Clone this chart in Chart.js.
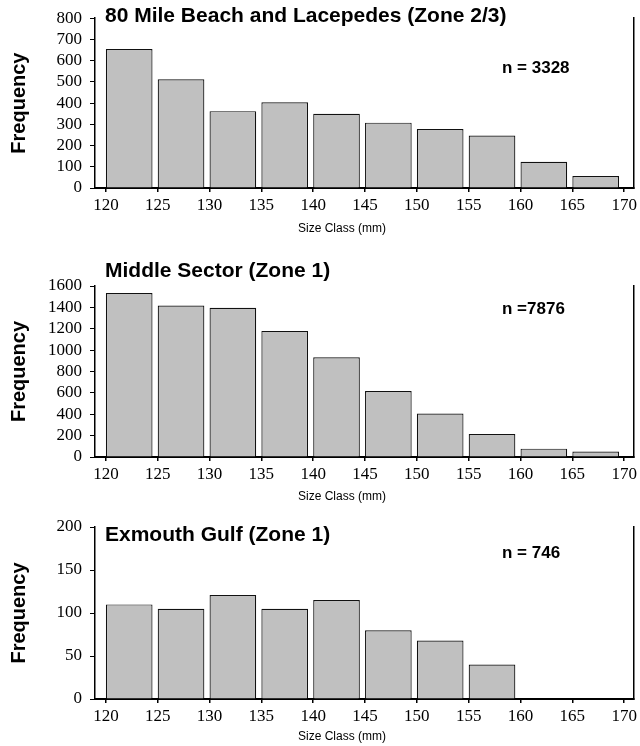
<!DOCTYPE html>
<html><head><meta charset="utf-8">
<script src="https://cdn.jsdelivr.net/npm/chart.js@4.4.0/dist/chart.umd.min.js"></script>
<style>
html,body{margin:0;padding:0;background:#fff;}
body{width:640px;height:746px;position:relative;overflow:hidden;}
canvas{position:absolute;left:0;}
</style></head><body>
<canvas id="c1" width="640" height="240" style="top:0px"></canvas>
<canvas id="c2" width="640" height="265" style="top:240px"></canvas>
<canvas id="c3" width="640" height="241" style="top:505px"></canvas>
<script>
// ---- data ----
const binStarts = [120, 125, 130, 135, 140, 145, 150, 155, 160, 165];
const xTickValues = [120, 125, 130, 135, 140, 145, 150, 155, 160, 165, 170];
const zone23Counts = [655, 512, 362, 404, 350, 308, 278, 247, 124, 56];
const middleCounts = [1535, 1418, 1396, 1180, 933, 618, 406, 215, 78, 52];
const exmouthCounts = [110, 105, 121, 105, 115, 80, 68, 40, 0, 0];
const panelTitles = ['80 Mile Beach and Lacepedes (Zone 2/3)', 'Middle Sector (Zone 1)', 'Exmouth Gulf (Zone 1)'];
const sampleSizes = ['n = 3328', 'n =7876', 'n = 746'];
const yTitle = 'Frequency';
const xTitle = 'Size Class (mm)';

const SANS = '"Liberation Sans", Arial, sans-serif';
const SERIF = '"Liberation Serif", "Times New Roman", serif';

const panelText = {
  id: 'panelText',
  afterDraw(chart, args, o) {
    const ctx = chart.ctx;
    ctx.save();
    ctx.fillStyle = '#000';
    ctx.textBaseline = 'middle';
    ctx.textAlign = 'left';
    ctx.font = 'bold 21px ' + SANS;
    ctx.fillText(o.title, o.titleX, o.titleY);
    ctx.font = 'bold 17px ' + SANS;
    ctx.fillText(o.n, o.nX, o.nY);
    ctx.font = '12px ' + SANS;
    ctx.textAlign = 'center';
    ctx.fillText(o.xTitle, o.xTitleX, o.xTitleY);
    ctx.restore();
  }
};

function makeChart(id, counts, yMax, yStep, idx, lay) {
  const canvas = document.getElementById(id);
  const H = canvas.height;
  return new Chart(canvas, {
    type: 'bar',
    data: {
      datasets: [{
        data: binStarts.map((s, i) => ({ x: s + 2.25, y: counts[i] })),
        backgroundColor: '#c0c0c0',
        borderColor: '#111',
        borderWidth: 1.2,
        barPercentage: 0.9,
        categoryPercentage: 1.0
      }]
    },
    options: {
      responsive: false,
      animation: false,
      devicePixelRatio: 1,
      layout: { padding: { top: lay.top, bottom: 0, left: 0, right: 0 } },
      plugins: {
        legend: { display: false },
        tooltip: { enabled: false },
        panelText: {
          title: panelTitles[idx], titleX: 105, titleY: lay.titleY,
          n: sampleSizes[idx], nX: 502, nY: lay.nY,
          xTitle: xTitle, xTitleX: 342, xTitleY: lay.xTitleY
        }
      },
      scales: {
        x: {
          type: 'linear',
          offset: false,
          min: 118.95, max: 170.9,
          afterBuildTicks: (a) => { a.ticks = xTickValues.map(v => ({ value: v })); },
          afterFit: (a) => { a.height = H - lay.bottom; },
          ticks: { font: { family: SERIF, size: 17 }, color: '#000', padding: 3, maxRotation: 0, autoSkip: false,
                   callback: (v) => String(v) },
          grid: { display: true, offset: false, drawOnChartArea: false, drawTicks: true, tickLength: 4, color: '#000', lineWidth: 1.5 },
          border: { display: true, color: '#000', width: 2 }
        },
        y: {
          min: 0, max: yMax,
          afterFit: (a) => { a.width = 95; },
          ticks: { stepSize: yStep, autoSkip: false, font: { family: SERIF, size: 17 }, color: '#000', padding: 8,
                   callback: (v) => String(v) },
          grid: { display: true, drawOnChartArea: false, drawTicks: true, tickLength: 5, color: '#000', lineWidth: 1 },
          border: { display: true, color: '#000', width: 1.5 },
          title: { display: true, text: yTitle, color: '#000', font: { family: SANS, size: 20, weight: 'bold' }, padding: { top: 7, bottom: 0 } }
        },
        y2: {
          position: 'right',
          display: true,
          afterFit: (a) => { a.width = 4; },
          ticks: { display: false },
          grid: { display: false, drawTicks: false },
          border: { display: true, color: '#000', width: 1.5 }
        }
      }
    },
    plugins: [panelText]
  });
}

makeChart('c1', zone23Counts, 800, 100, 0, { top: 16, bottom: 188, titleY: 16, nY: 68, xTitleY: 229 });
makeChart('c2', middleCounts, 1600, 200, 1, { top: 46, bottom: 217, titleY: 31, nY: 69, xTitleY: 257 });
makeChart('c3', exmouthCounts, 200, 50, 2, { top: 22, bottom: 194, titleY: 30, nY: 48, xTitleY: 232 });
</script>
</body></html>
